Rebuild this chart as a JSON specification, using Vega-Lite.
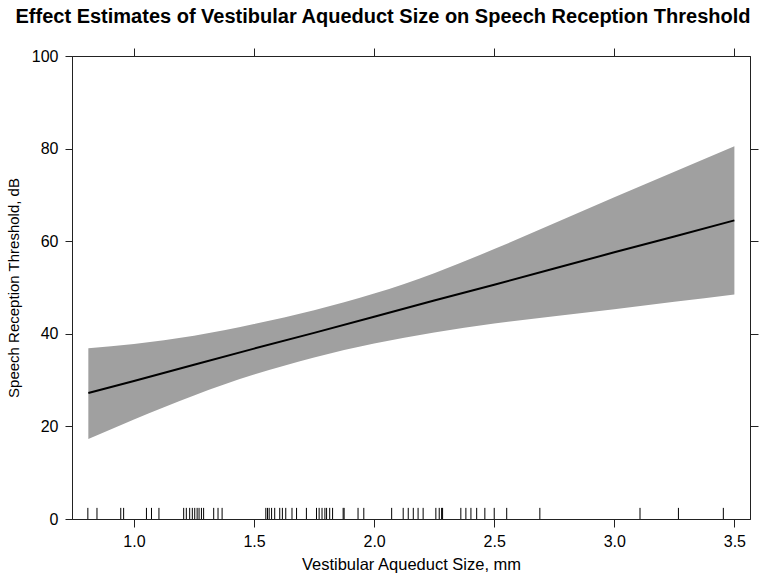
{
  "$schema": "https://vega.github.io/schema/vega-lite/v6.json",
  "autosize": "none",
  "width": 678,
  "height": 463,
  "padding": {"left": 72, "top": 56, "right": 10, "bottom": 60},
  "background": "white",
  "config": {
    "font": "Liberation Sans",
    "view": {"stroke": "#222222", "strokeWidth": 1},
    "axis": {
      "labelFont": "Liberation Sans",
      "titleFont": "Liberation Sans",
      "labelColor": "black",
      "titleColor": "black",
      "labelFontSize": 16,
      "titleFontSize": 16,
      "titleFontWeight": "normal",
      "domainColor": "#222222",
      "tickColor": "#222222",
      "grid": false
    }
  },
  "title": {
    "text": "Effect Estimates of Vestibular Aqueduct Size on Speech Reception Threshold",
    "font": "Liberation Sans",
    "fontSize": 20,
    "fontWeight": "bold",
    "color": "black",
    "anchor": "middle",
    "dx": -28,
    "offset": 21
  },
  "datasets": {
    "band": [
      {"size": 0.81, "lo": 17.3, "hi": 36.9, "est": 27.2},
      {"size": 1.0, "lo": 21.5, "hi": 37.8, "est": 29.8},
      {"size": 1.25, "lo": 26.7, "hi": 39.6, "est": 33.3},
      {"size": 1.5, "lo": 31.2, "hi": 42.1, "est": 36.8},
      {"size": 1.75, "lo": 34.9, "hi": 45.1, "est": 40.2},
      {"size": 2.0, "lo": 37.9, "hi": 48.7, "est": 43.7},
      {"size": 2.25, "lo": 40.3, "hi": 53.1, "est": 47.2},
      {"size": 2.5, "lo": 42.2, "hi": 58.3, "est": 50.6},
      {"size": 2.75, "lo": 43.8, "hi": 63.9, "est": 54.1},
      {"size": 3.0, "lo": 45.3, "hi": 69.5, "est": 57.6},
      {"size": 3.25, "lo": 46.9, "hi": 75.0, "est": 61.0},
      {"size": 3.5, "lo": 48.5, "hi": 80.5, "est": 64.5}
    ],
    "rug": [
      {"size": 0.808}, {"size": 0.846}, {"size": 0.945}, {"size": 0.957},
      {"size": 1.052}, {"size": 1.073}, {"size": 1.104}, {"size": 1.207},
      {"size": 1.218}, {"size": 1.232}, {"size": 1.243}, {"size": 1.253},
      {"size": 1.263}, {"size": 1.271}, {"size": 1.281}, {"size": 1.29},
      {"size": 1.332}, {"size": 1.35}, {"size": 1.367}, {"size": 1.549},
      {"size": 1.556}, {"size": 1.563}, {"size": 1.573}, {"size": 1.586},
      {"size": 1.607}, {"size": 1.618}, {"size": 1.632}, {"size": 1.658},
      {"size": 1.677}, {"size": 1.718}, {"size": 1.76}, {"size": 1.771},
      {"size": 1.783}, {"size": 1.795}, {"size": 1.802}, {"size": 1.815},
      {"size": 1.827}, {"size": 1.871}, {"size": 1.875}, {"size": 1.933},
      {"size": 1.957}, {"size": 2.073}, {"size": 2.121}, {"size": 2.142},
      {"size": 2.163}, {"size": 2.183}, {"size": 2.204}, {"size": 2.257},
      {"size": 2.271}, {"size": 2.281}, {"size": 2.285}, {"size": 2.361},
      {"size": 2.382}, {"size": 2.403}, {"size": 2.427}, {"size": 2.461},
      {"size": 2.5}, {"size": 2.552}, {"size": 2.69}, {"size": 3.107},
      {"size": 3.267}, {"size": 3.454}
    ]
  },
  "layer": [
    {
      "data": {"name": "band"},
      "mark": {"type": "area", "color": "#a0a0a0", "opacity": 1, "interpolate": "monotone"},
      "encoding": {
        "x": {
          "field": "size", "type": "quantitative",
          "scale": {"domain": [0.742, 3.565], "nice": false, "zero": false},
          "axis": {
            "orient": "bottom", "values": [1.0, 1.5, 2.0, 2.5, 3.0, 3.5], "format": ".1f",
            "tickSize": 8, "labelPadding": 6, "title": "Vestibular Aqueduct Size, mm",
            "titleFontSize": 16.5, "titlePadding": 7
          }
        },
        "y": {
          "field": "lo", "type": "quantitative",
          "scale": {"domain": [0, 100], "nice": false},
          "axis": {
            "orient": "left", "values": [0, 20, 40, 60, 80, 100],
            "tickSize": 7, "labelPadding": 7, "title": "Speech Reception Threshold, dB",
            "titleFontSize": 15, "titlePadding": 10
          }
        },
        "y2": {"field": "hi"}
      }
    },
    {
      "data": {"name": "band"},
      "mark": {"type": "line", "color": "black", "strokeWidth": 2},
      "encoding": {
        "x": {
          "field": "size", "type": "quantitative",
          "axis": {"orient": "top", "values": [1.0, 1.5, 2.0, 2.5, 3.0, 3.5], "labels": false, "tickSize": 8, "title": null}
        },
        "y": {
          "field": "est", "type": "quantitative",
          "axis": {"orient": "right", "values": [20, 40, 60, 80], "labels": false, "tickSize": 8, "title": null}
        }
      }
    },
    {
      "data": {"name": "rug"},
      "mark": {"type": "rule", "color": "black", "strokeWidth": 1},
      "encoding": {
        "x": {"field": "size", "type": "quantitative", "axis": null},
        "y": {"datum": 0, "axis": null},
        "y2": {"datum": 2.4}
      }
    }
  ],
  "resolve": {"axis": {"x": "independent", "y": "independent"}}
}
